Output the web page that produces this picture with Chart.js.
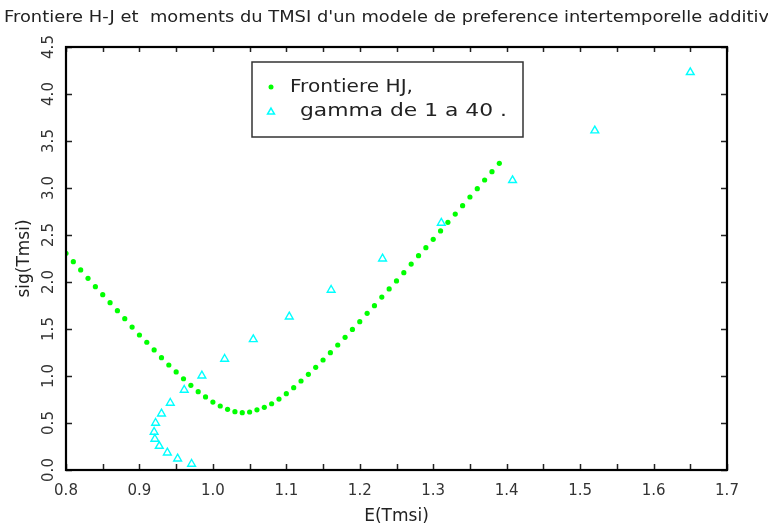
<!DOCTYPE html>
<html>
<head>
<meta charset="utf-8">
<script src="https://cdn.jsdelivr.net/npm/chart.js@4/dist/chart.umd.min.js"></script>
<style>
  html, body { margin: 0; padding: 0; background: #fff; }
  #wrap { width: 768px; height: 531px; }
</style>
</head>
<body>
<div id="wrap"><canvas id="c" width="768" height="531"></canvas></div>
<script>
// ── Data ─────────────────────────────────────────────
const hjX = [0.80, 0.81, 0.82, 0.83, 0.84, 0.85, 0.86, 0.87, 0.88, 0.89,
             0.90, 0.91, 0.92, 0.93, 0.94, 0.95, 0.96, 0.97, 0.98, 0.99,
             1.00, 1.01, 1.02, 1.03, 1.04, 1.05, 1.06, 1.07, 1.08, 1.09,
             1.10, 1.11, 1.12, 1.13, 1.14, 1.15, 1.16, 1.17, 1.18, 1.19,
             1.20, 1.21, 1.22, 1.23, 1.24, 1.25, 1.26, 1.27, 1.28, 1.29,
             1.30, 1.31, 1.32, 1.33, 1.34, 1.35, 1.36, 1.37, 1.38, 1.39];
const hjY = [2.305, 2.216, 2.128, 2.039, 1.950, 1.865, 1.780, 1.695, 1.610, 1.521,
             1.436, 1.359, 1.277, 1.195, 1.117, 1.043, 0.971, 0.901, 0.833, 0.777,
             0.723, 0.681, 0.646, 0.620, 0.610, 0.617, 0.640, 0.667, 0.705, 0.755,
             0.812, 0.876, 0.947, 1.018, 1.092, 1.170, 1.248, 1.330, 1.411, 1.496,
             1.578, 1.667, 1.748, 1.840, 1.926, 2.011, 2.099, 2.191, 2.280, 2.365,
             2.454, 2.543, 2.635, 2.723, 2.812, 2.904, 2.993, 3.085, 3.174, 3.263];

const gammaX = [0.971, 0.952, 0.938, 0.927, 0.921, 0.920, 0.922, 0.930, 0.942, 0.961,
                0.985, 1.016, 1.055, 1.104, 1.161, 1.231, 1.311, 1.408, 1.520, 1.650];
const gammaY = [0.064, 0.120, 0.184, 0.255, 0.330, 0.404, 0.500, 0.599, 0.713, 0.851,
                1.003, 1.181, 1.390, 1.631, 1.915, 2.248, 2.628, 3.082, 3.610, 4.231];

const xTickLabels = ['0.8', '0.9', '1.0', '1.1', '1.2', '1.3', '1.4', '1.5', '1.6', '1.7'];
const yTickLabels = ['0.0', '0.5', '1.0', '1.5', '2.0', '2.5', '3.0', '3.5', '4.0', '4.5'];

const titleText = "Frontiere H-J et  moments du TMSI d'un modele de preference intertemporelle additive";
const legendLabels = ['Frontiere HJ,', ' gamma de 1 a 40 .'];

const FONT = "'DejaVu Sans', sans-serif";
const GREEN = '#00ff00';
const CYAN = '#00ffff';
const INK = '#333';

// draw text squeezed/stretched to a given width (Hershey-like wide lettering)
const fitText = (ctx, text, x, y, width) => {
  const w = ctx.measureText(text).width;
  ctx.save();
  ctx.translate(x, y);
  ctx.scale(width / w, 1);
  ctx.fillText(text, 0, 0);
  ctx.restore();
};

// ── Frame, inner ticks, rotated y labels, legend, title ──
const framePlugin = {
  id: 'frame',
  afterDraw(chart) {
    const { ctx, chartArea: a, scales: { x, y } } = chart;
    ctx.save();

    // inner tick marks on all four sides
    ctx.strokeStyle = '#222';
    ctx.lineWidth = 1.5;
    ctx.beginPath();
    x.ticks.forEach(t => {
      const px = Math.round(x.getPixelForValue(t.value)) + 0.5;
      ctx.moveTo(px, a.bottom); ctx.lineTo(px, a.bottom - 6);
      ctx.moveTo(px, a.top); ctx.lineTo(px, a.top + 5);
    });
    y.ticks.forEach(t => {
      const py = Math.round(y.getPixelForValue(t.value)) + 0.5;
      ctx.moveTo(a.left, py); ctx.lineTo(a.left + 6, py);
      ctx.moveTo(a.right, py); ctx.lineTo(a.right - 6, py);
    });
    ctx.stroke();

    // frame
    ctx.strokeStyle = '#000';
    ctx.lineWidth = 2.2;
    ctx.strokeRect(a.left, a.top, a.width, a.height);

    // y tick labels, rotated to read upward
    ctx.fillStyle = INK;
    ctx.font = `15px ${FONT}`;
    ctx.textAlign = 'center';
    ctx.textBaseline = 'middle';
    y.ticks.forEach((t, i) => {
      const py = y.getPixelForValue(t.value);
      ctx.save();
      ctx.translate(49, py);
      ctx.rotate(-Math.PI / 2);
      ctx.fillText(yTickLabels[i] || '', 0, 0);
      ctx.restore();
    });

    // title, running off the right edge like the original
    ctx.textAlign = 'left';
    ctx.fillStyle = '#222';
    ctx.font = `15px ${FONT}`;
    fitText(ctx, titleText, 4, 18, 776);

    // legend box
    const bx = 252, by = 62, bw = 271, bh = 75;
    ctx.strokeStyle = '#333';
    ctx.lineWidth = 1.5;
    ctx.strokeRect(bx, by, bw, bh);

    ctx.fillStyle = GREEN;
    ctx.beginPath();
    ctx.arc(271, 87, 2.5, 0, Math.PI * 2);
    ctx.fill();

    ctx.strokeStyle = CYAN;
    ctx.fillStyle = 'rgba(0,0,0,0)';
    Chart.helpers.drawPoint(ctx, { pointStyle: 'triangle', radius: 4, rotation: 0, borderWidth: 1.3 }, 271, 112);

    ctx.fillStyle = '#222';
    ctx.font = `17px ${FONT}`;
    fitText(ctx, legendLabels[0], 290, 88, 123);
    fitText(ctx, legendLabels[1], 293, 112, 214);

    ctx.restore();
  }
};

new Chart(document.getElementById('c'), {
  type: 'scatter',
  data: {
    datasets: [
      {
        label: legendLabels[0],
        data: hjX.map((v, i) => ({ x: v, y: hjY[i] })),
        pointStyle: 'circle',
        pointRadius: 2.6,
        backgroundColor: GREEN,
        borderWidth: 0,
      },
      {
        label: legendLabels[1],
        data: gammaX.map((v, i) => ({ x: v, y: gammaY[i] })),
        pointStyle: 'triangle',
        pointRadius: 4.5,
        backgroundColor: 'rgba(0,0,0,0)',
        borderColor: CYAN,
        borderWidth: 1.4,
      }
    ]
  },
  options: {
    responsive: false,
    animation: false,
    events: [],
    layout: { padding: { top: 47, right: 41, bottom: 0, left: 0 } },
    plugins: { legend: { display: false }, tooltip: { enabled: false } },
    scales: {
      x: {
        type: 'linear', min: 0.8, max: 1.7,
        border: { display: false },
        grid: { display: false, drawTicks: false, tickLength: 0 },
        ticks: {
          stepSize: 0.05, autoSkip: false, maxRotation: 0, minRotation: 0,
          padding: 12, color: INK, font: { family: FONT, size: 15 },
          callback: v => {
            const k = Math.round(v * 100);
            return k % 10 === 0 ? xTickLabels[(k - 80) / 10] : '';
          }
        },
        title: { display: true, text: 'E(Tmsi)', color: '#222', font: { family: FONT, size: 17 }, padding: { top: 0, bottom: 4 } },
        afterFit: s => { s.height = 61; }
      },
      y: {
        type: 'linear', min: 0, max: 4.5,
        border: { display: false },
        grid: { display: false, drawTicks: false },
        ticks: { stepSize: 0.5, display: false },
        title: { display: true, text: 'sig(Tmsi)', color: '#222', font: { family: FONT, size: 17 }, padding: { top: 14, bottom: 0 } },
        afterFit: s => { s.width = 66; }
      }
    }
  },
  plugins: [framePlugin]
});
</script>
</body>
</html>
